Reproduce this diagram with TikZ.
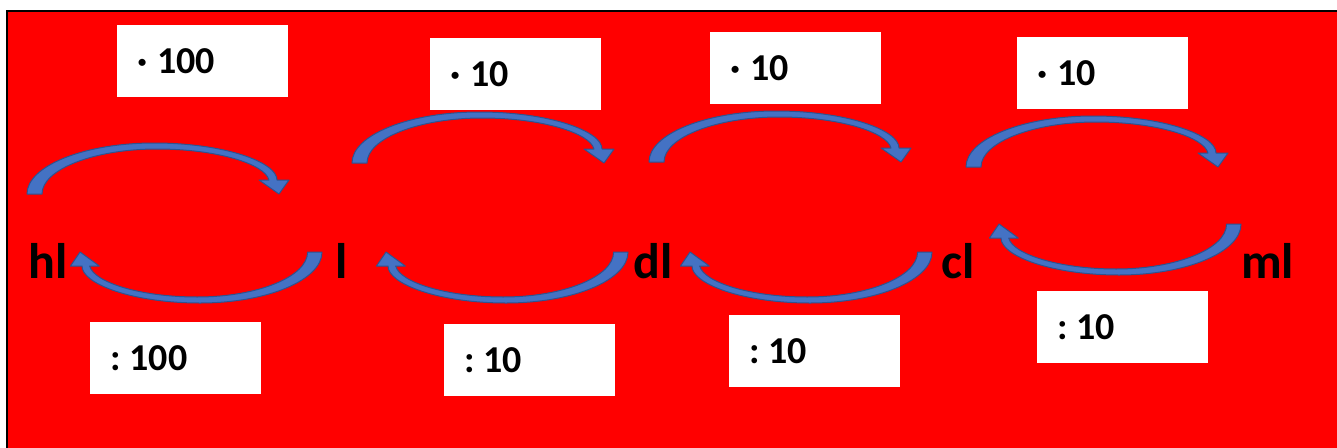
\documentclass[tikz,border=0pt]{standalone}
\usepackage{fontspec}
\setmainfont{Carlito}
\definecolor{bowblue}{HTML}{4472C4}
\definecolor{bowedge}{HTML}{2F528F}
\newcommand\mulby[1]{·\hspace{10pt}#1}
\newcommand\divby[1]{:\hspace{9pt}#1}
\tikzset{
  unitlbl/.style={font=\fontsize{50}{50}\selectfont\bfseries,inner sep=0pt,anchor=base west},
  factbox/.style={fill=white,anchor=north west,minimum width=171pt,minimum height=72pt,
    text width=131pt,inner xsep=20pt,inner ysep=0pt,align=left,
    font=\fontsize{38}{38}\selectfont\bfseries},
  bowfill/.style={fill=bowblue,draw=bowedge,line width=1pt,line join=round},
  overbow/.pic={
    \path[bowfill] (0,0) .. controls (0,-28) and (57,-51) .. (127,-51)
      .. controls (197,-51) and (250,-32) .. (250,-14) -- (262,-14) -- (252,0)
      -- (232,-14) -- (242,-14) .. controls (238,-30) and (190,-45) .. (130,-45)
      .. controls (68,-45) and (15,-25) .. (15,0) -- cycle;
  }
}

\begin{document}
\begin{tikzpicture}[x=1pt,y=-1pt]
  \useasboundingbox (0,0) rectangle (1337,447);
  % Background
  \path[draw=black,line width=2pt,fill=red] (7,11) rectangle (1350,460);

  % Units
  \node[unitlbl] (hl) at (28,278) {hl};
  \node[unitlbl] (l)  at (335,278) {l};
  \node[unitlbl] (dl) at (633,278) {dl};
  \node[unitlbl] (cl) at (941,278) {cl};
  \node[unitlbl] (ml) at (1241,278) {ml};

  % Multiply boxes
  \node[factbox] (mul1) at (117,25) {\mulby{100}};
  \node[factbox] (mul2) at (430,38) {\mulby{10}};
  \node[factbox] (mul3) at (710,32) {\mulby{10}};
  \node[factbox] (mul4) at (1017,37) {\mulby{10}};

  % Divide boxes
  \node[factbox] (div1) at (90,322) {\divby{100}};
  \node[factbox] (div2) at (444,324) {\divby{10}};
  \node[factbox] (div3) at (729,315) {\divby{10}};
  \node[factbox] (div4) at (1037,291) {\divby{10}};

  % Arrow tails
  \coordinate (up1) at (27,194);
  \coordinate (up2) at (352,163);
  \coordinate (up3) at (649,162);
  \coordinate (up4) at (966,167);
  \coordinate (dn1) at (322,252);
  \coordinate (dn2) at (628,252);
  \coordinate (dn3) at (932,252);
  \coordinate (dn4) at (1241,224);

  \foreach \t in {up1,up2,up3,up4}
    \pic at (\t) {overbow};
  \foreach \t in {dn1,dn2,dn3,dn4}
    \pic[rotate=180,xscale=0.96] at (\t) {overbow};

\end{tikzpicture}
\end{document}
